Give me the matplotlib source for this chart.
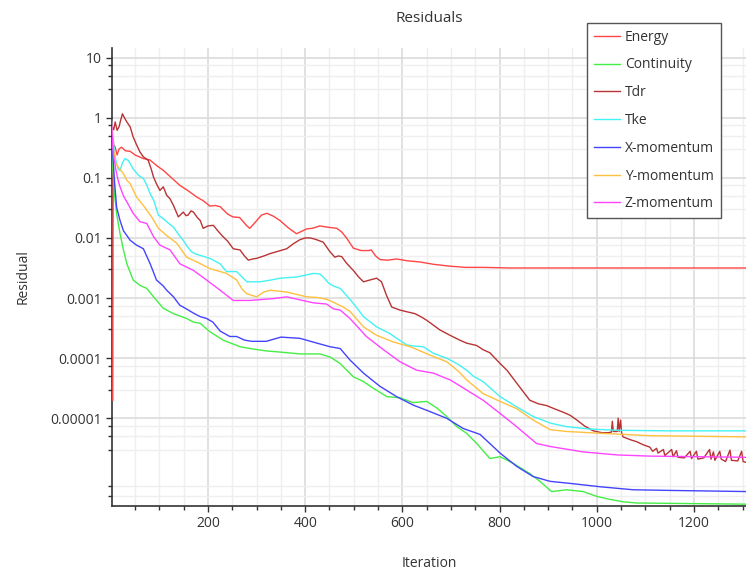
import matplotlib
matplotlib.use("Agg")
import matplotlib.pyplot as plt
import numpy as np
from matplotlib.ticker import FixedLocator, FixedFormatter

plt.rcParams['font.family'] = ['Open Sans', 'DejaVu Sans']

# ---- data (iteration, log10 residual) ----
energy_it = [4, 5, 6, 9, 13, 17, 22, 30, 40, 50, 67, 80, 95, 108, 125, 142, 160, 177, 190, 204,
             215, 225, 240, 251, 265, 280, 286, 295, 310, 321, 335, 348, 365, 382, 390, 403, 415,
             430, 445, 465, 475, 485, 499, 515, 530, 536, 545, 554, 570, 588, 610, 636, 665, 698,
             730, 766, 820, 904, 1000, 1100, 1200, 1310]
energy_log = [-4.7, -0.35, -0.45, -0.49, -0.62, -0.52, -0.49, -0.55, -0.56, -0.62, -0.68, -0.70,
              -0.80, -0.875, -1.0, -1.125, -1.22, -1.32, -1.38, -1.47, -1.46, -1.48, -1.60, -1.65,
              -1.66, -1.80, -1.84, -1.76, -1.62, -1.59, -1.64, -1.71, -1.83, -1.93, -1.90, -1.85,
              -1.84, -1.80, -1.82, -1.84, -1.90, -2.0, -2.17, -2.21, -2.21, -2.20, -2.30, -2.36,
              -2.37, -2.35, -2.38, -2.40, -2.44, -2.47, -2.49, -2.49, -2.50, -2.50, -2.50, -2.50,
              -2.50, -2.50]

continuity_it = [1, 4, 8, 12, 19, 26, 33, 46, 60, 74, 88, 108, 129, 156, 170, 184, 204, 231, 266,
                 286, 320, 350, 389, 430, 451, 472, 499, 520, 540, 568, 595, 622, 650, 671, 691,
                 712, 732, 753, 780, 801, 828, 862, 883, 907, 938, 972, 1000, 1027, 1054, 1082,
                 1310]
continuity_log = [0.0, -0.8, -1.3, -1.6, -1.93, -2.2, -2.43, -2.70, -2.79, -2.84, -2.98, -3.17,
                  -3.26, -3.34, -3.40, -3.42, -3.56, -3.70, -3.81, -3.84, -3.88, -3.90, -3.93,
                  -3.93, -3.98, -4.09, -4.31, -4.39, -4.50, -4.64, -4.66, -4.74, -4.72, -4.83,
                  -4.97, -5.14, -5.25, -5.42, -5.67, -5.64, -5.75, -5.92, -6.05, -6.22, -6.19,
                  -6.22, -6.30, -6.35, -6.39, -6.41, -6.43]

tdr_it = [3, 6, 9, 13, 17, 20, 24, 28, 33, 40, 46, 53, 60, 67, 77, 83, 88, 94, 101, 108, 115, 122,
          129, 139, 149, 155, 159, 165, 170, 178, 184, 190, 200, 211, 220, 231, 240, 252, 266, 275,
          283, 292, 300, 315, 328, 345, 362, 375, 389, 400, 410, 420, 437, 451, 461, 468, 475,
          485, 499, 510, 520, 533, 547, 557, 567, 578, 595, 610, 626, 640, 650, 665, 677, 698,
          718, 732, 753, 766, 780, 801, 815, 828, 845, 862, 880, 897, 915, 931, 945, 959, 975,
          993, 1010, 1025, 1030, 1032, 1034, 1042, 1044, 1046, 1049, 1051, 1054, 1070, 1082,
          1095, 1109, 1115, 1123, 1126, 1137, 1140, 1154, 1157, 1164, 1167, 1180, 1192, 1195,
          1205, 1208, 1220, 1232, 1235, 1240, 1243, 1253, 1256, 1265, 1274, 1277, 1290, 1298,
          1301, 1310]
tdr_log = [-0.15, -0.2, -0.07, -0.21, -0.15, -0.05, 0.066, 0.0, -0.07, -0.155, -0.32, -0.45,
           -0.57, -0.65, -0.71, -0.85, -0.99, -1.10, -1.21, -1.15, -1.29, -1.35, -1.46, -1.65,
           -1.57, -1.63, -1.62, -1.55, -1.57, -1.66, -1.71, -1.84, -1.80, -1.79, -1.88, -1.98,
           -2.05, -2.18, -2.20, -2.30, -2.37, -2.35, -2.34, -2.30, -2.26, -2.22, -2.18, -2.10,
           -2.03, -2.0, -2.0, -2.02, -2.07, -2.23, -2.32, -2.30, -2.31, -2.42, -2.54, -2.65,
           -2.73, -2.70, -2.67, -2.73, -2.95, -3.15, -3.20, -3.23, -3.26, -3.32, -3.37, -3.46,
           -3.53, -3.62, -3.70, -3.75, -3.79, -3.86, -3.91, -4.09, -4.20, -4.34, -4.52, -4.70,
           -4.76, -4.79, -4.85, -4.90, -4.95, -5.03, -5.13, -5.21, -5.24, -5.24, -5.23, -5.05,
           -5.22, -5.22, -5.00, -5.22, -5.03, -5.24, -5.31, -5.36, -5.39, -5.44, -5.48, -5.55,
           -5.50, -5.58, -5.52, -5.62, -5.52, -5.64, -5.54, -5.65, -5.66, -5.55, -5.67, -5.55,
           -5.68, -5.66, -5.52, -5.68, -5.56, -5.70, -5.55, -5.68, -5.72, -5.53, -5.70, -5.71,
           -5.55, -5.72, -5.74]

tke_it = [1, 5, 10, 15, 19, 24, 29, 36, 46, 57, 67, 74, 80, 88, 98, 108, 118, 129, 140, 149, 158,
          166, 175, 184, 204, 225, 238, 259, 270, 280, 307, 330, 348, 365, 382, 400, 417, 430,
          437, 448, 458, 472, 492, 505, 520, 547, 574, 590, 609, 625, 643, 664, 691, 705, 718,
          732, 746, 766, 801, 835, 869, 904, 938, 986, 1041, 1150, 1310]
tke_log = [0.0, -0.4, -0.7, -0.85, -0.88, -0.75, -0.68, -0.71, -0.85, -0.96, -1.01, -1.12, -1.25,
           -1.37, -1.62, -1.68, -1.75, -1.82, -1.95, -2.04, -2.15, -2.23, -2.27, -2.29, -2.34,
           -2.43, -2.56, -2.56, -2.65, -2.73, -2.73, -2.70, -2.67, -2.66, -2.65, -2.62, -2.59,
           -2.60, -2.65, -2.75, -2.80, -2.84, -3.02, -3.15, -3.31, -3.48, -3.59, -3.68, -3.78,
           -3.80, -3.81, -3.92, -4.00, -4.06, -4.12, -4.20, -4.30, -4.39, -4.64, -4.81, -4.97,
           -5.08, -5.14, -5.18, -5.20, -5.21, -5.21]

xmom_it = [1, 4, 8, 12, 19, 26, 40, 53, 67, 81, 94, 108, 115, 129, 142, 149, 170, 184, 197, 210,
           225, 245, 259, 275, 290, 320, 350, 369, 389, 424, 451, 472, 492, 520, 554, 588, 622,
           657, 691, 725, 760, 801, 835, 869, 904, 952, 1007, 1075, 1144, 1310]
xmom_log = [0.0, -0.6, -1.1, -1.49, -1.71, -1.88, -2.04, -2.12, -2.18, -2.43, -2.70, -2.80, -2.87,
            -2.98, -3.12, -3.15, -3.25, -3.31, -3.34, -3.40, -3.55, -3.64, -3.64, -3.70, -3.72,
            -3.72, -3.65, -3.66, -3.67, -3.75, -3.81, -3.84, -4.03, -4.25, -4.47, -4.64, -4.78,
            -4.89, -5.00, -5.17, -5.27, -5.58, -5.80, -5.97, -6.05, -6.09, -6.14, -6.19, -6.20,
            -6.22]

ymom_it = [1, 5, 10, 18, 26, 33, 40, 53, 67, 84, 98, 115, 136, 156, 177, 204, 238, 259, 270, 280,
           300, 315, 328, 362, 403, 424, 444, 458, 478, 492, 520, 547, 581, 616, 657, 691, 705,
           718, 732, 766, 801, 835, 869, 904, 938, 1007, 1109, 1310]
ymom_log = [0.0, -0.5, -0.76, -0.85, -0.93, -1.04, -1.10, -1.32, -1.46, -1.65, -1.84, -1.96,
            -2.09, -2.32, -2.40, -2.51, -2.59, -2.70, -2.85, -2.93, -2.98, -2.90, -2.87, -2.90,
            -2.98, -2.99, -3.02, -3.07, -3.15, -3.22, -3.48, -3.62, -3.73, -3.81, -3.95, -4.06,
            -4.15, -4.24, -4.36, -4.59, -4.72, -4.84, -5.03, -5.19, -5.22, -5.25, -5.29, -5.31]

zmom_it = [1, 5, 10, 15, 19, 26, 33, 46, 60, 74, 88, 101, 122, 142, 170, 197, 225, 252, 286, 334,
           362, 389, 417, 444, 458, 472, 492, 526, 561, 595, 629, 664, 691, 698, 732, 766, 801,
           835, 876, 904, 972, 1041, 1109, 1310]
zmom_log = [0.0, -0.6, -0.85, -1.04, -1.15, -1.30, -1.40, -1.59, -1.73, -1.76, -1.98, -2.12,
            -2.20, -2.43, -2.54, -2.70, -2.87, -3.04, -3.04, -3.01, -2.98, -3.03, -3.08, -3.10,
            -3.18, -3.20, -3.34, -3.64, -3.86, -4.06, -4.20, -4.25, -4.34, -4.36, -4.53, -4.70,
            -4.92, -5.14, -5.42, -5.47, -5.56, -5.61, -5.63, -5.65]

series_names = ["Energy", "Continuity", "Tdr", "Tke", "X-momentum", "Y-momentum", "Z-momentum"]
series_colors = ["#ff4545", "#44ee44", "#b83434", "#44f2f2", "#4444ff", "#ffc040", "#ff44ff"]
series_data = [(energy_it, energy_log), (continuity_it, continuity_log), (tdr_it, tdr_log),
               (tke_it, tke_log), (xmom_it, xmom_log), (ymom_it, ymom_log), (zmom_it, zmom_log)]

y_major = [1e-5, 1e-4, 1e-3, 1e-2, 1e-1, 1, 10]
y_labels = ["0.00001", "0.0001", "0.001", "0.01", "0.1", "1", "10"]
x_major = [200, 400, 600, 800, 1000, 1200]
x_labels = ["200", "400", "600", "800", "1000", "1200"]

# ---- figure ----
W, H = 746, 570
fig = plt.figure(figsize=(W / 100, H / 100), dpi=100)
ax = fig.add_axes([112.5 / W, 1 - 506 / H, (W - 112.5) / W, (506 - 48) / H])

for name, color, (it, lg) in zip(series_names, series_colors, series_data):
    ax.plot(it, 10.0 ** np.asarray(lg), color=color, lw=1.0, label=name, zorder=3)

ax.set_yscale('log')
ax.set_xlim(3.5, 1307)
ax.set_ylim(10 ** -6.46, 10 ** 1.16)

ax.yaxis.set_major_locator(FixedLocator(y_major))
ax.yaxis.set_major_formatter(FixedFormatter(y_labels))
minor_y = [m * 10.0 ** k for k in range(-7, 2) for m in (3, 5, 7.5)]
ax.yaxis.set_minor_locator(FixedLocator(minor_y))
ax.yaxis.set_minor_formatter(FixedFormatter([""] * len(minor_y)))

ax.xaxis.set_major_locator(FixedLocator(x_major))
ax.xaxis.set_major_formatter(FixedFormatter(x_labels))
ax.xaxis.set_minor_locator(FixedLocator(np.arange(50, 1301, 50)))

ax.grid(which='major', color='#dcdcdc', lw=1.2, zorder=0)
ax.grid(which='minor', color='#efefef', lw=1.0, zorder=0)
ax.set_axisbelow(True)

for s in ('top', 'right'):
    ax.spines[s].set_visible(False)
for s in ('left', 'bottom'):
    ax.spines[s].set_color('#333333')
    ax.spines[s].set_linewidth(1.2)

ax.tick_params(which='major', length=4.5, width=1.0, color='#333333', labelsize=10,
               labelcolor='#333333', pad=3)
ax.tick_params(which='minor', length=3.0, width=1.0, color='#333333')

ax.set_xlabel("Iteration", fontsize=10, color='#333333', labelpad=18)
ax.set_ylabel("Residual", fontsize=10, color='#333333', labelpad=14)
fig.text(429 / W, 1 - 19 / H, "Residuals", ha='center', va='center', fontsize=11, color='#333333')

leg = ax.legend(loc='upper left', bbox_to_anchor=(586.7 / W, 1 - 22.7 / H),
                bbox_transform=fig.transFigure, borderaxespad=0, fancybox=False, framealpha=1,
                edgecolor='#555555', fontsize=10, handlelength=1.9, handletextpad=0.35,
                labelspacing=0.92, borderpad=0.5)
leg.get_frame().set_linewidth(1.0)
for t in leg.get_texts():
    t.set_color('#333333')
leg.set_zorder(10)

fig.savefig("out.png", dpi=100)
